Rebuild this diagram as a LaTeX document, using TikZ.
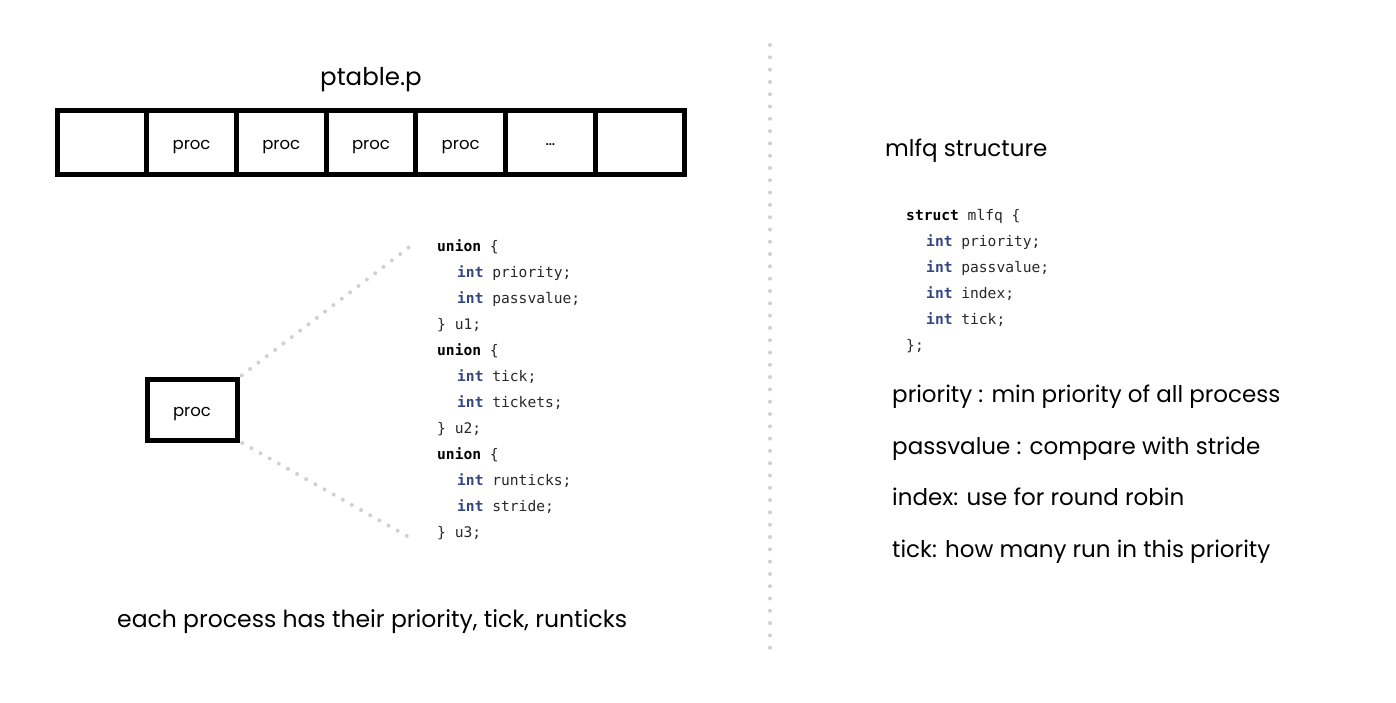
\documentclass[tikz,border=0pt]{standalone}
\usepackage{fontspec}
\setmainfont{Poppins}
\newfontfamily\codefont{DejaVu Sans Mono}
\usetikzlibrary{calc}
\definecolor{kwblue}{RGB}{52,70,128}
\definecolor{codegray}{RGB}{40,40,40}
\definecolor{dotgray}{RGB}{208,208,208}
\newcommand{\kwi}{{\bfseries\color{kwblue}int}}
\newcommand{\kwb}[1]{{\bfseries\color{black}#1}}
\tikzset{
  cellbox/.style={draw=black, line width=5pt, minimum width=89.7pt, minimum height=64pt, inner sep=0pt, outer sep=0pt},
  celltext/.style={inner sep=0pt, font=\fontsize{16.5}{18}\selectfont},
  procbox/.style={draw=black, line width=5pt, minimum width=90pt, minimum height=61pt, inner sep=0pt, outer sep=0pt},
  codeline/.style={anchor=mid west, inner sep=0pt, text=codegray, font=\codefont\fontsize{14.6}{18}\selectfont},
  label/.style={anchor=mid west, inner sep=0pt, font=\fontsize{23}{26}\selectfont},
  dotline/.style={draw=dotgray, line width=4pt, line cap=round, dash pattern=on 0pt off 10.5pt},
  vdotline/.style={draw=dotgray, line width=4pt, line cap=round, dash pattern=on 0pt off 12.3pt}
}
\begin{document}
\begin{tikzpicture}[x=1pt,y=-1pt]
\path[use as bounding box] (0,0) rectangle (1396,702);

% ptable
\node[anchor=center, inner sep=0pt, font=\fontsize{24.5}{28}\selectfont] (title) at (371,80) {ptable.p};
\foreach \t [count=\i from 0] in {{},{},{},{},{},{},{}} {
  \node[cellbox] (cell\i) at ({57+89.7*(\i+0.5)},142) {};
}
\foreach \i in {1,2,3,4} {
  \node[celltext] (ct\i) at ($(cell\i.center)+(0,5)$) {proc};
}
\node[celltext] (ct5) at ($(cell5.center)+(0,3)$) {\ldots};

% proc box
\node[procbox] (pbox) at (192,409.5) {};
\node[celltext] (ptext) at ($(pbox.center)+(0,5)$) {proc};
\coordinate (ct) at (412,245);
\coordinate (cb) at (407,536);
\draw[dotline, shorten <=6pt] (pbox.north east) -- (ct);
\draw[dotline, shorten <=6pt] (pbox.south east) -- (cb);

% left code
\foreach \y/\x/\t [count=\i] in {
  246/437/{\kwb{union} \{},
  272/457/{\kwi{} priority;},
  298/457/{\kwi{} passvalue;},
  324/437/{\} u1;},
  350/437/{\kwb{union} \{},
  376/457/{\kwi{} tick;},
  402/457/{\kwi{} tickets;},
  428/437/{\} u2;},
  454/437/{\kwb{union} \{},
  480/457/{\kwi{} runticks;},
  506/457/{\kwi{} stride;},
  532/437/{\} u3;}} {
  \node[codeline] (lc\i) at (\x,\y+3) {\t};
}

% bottom text
\node[label, font=\fontsize{23.5}{26}\selectfont] (bottom) at (117,625) {each process has their priority, tick, runticks};

% divider
\coordinate (vt) at (770,45);
\coordinate (vb) at (770,652);
\draw[vdotline] (vt) -- (vb);

% right side
\node[label] (mlfq) at (885,154) {mlfq structure};
\foreach \y/\x/\t [count=\i] in {
  215/906/{\kwb{struct} mlfq \{},
  241/926/{\kwi{} priority;},
  267/926/{\kwi{} passvalue;},
  293/926/{\kwi{} index;},
  319/926/{\kwi{} tick;},
  345/906/{\};}} {
  \node[codeline] (rc\i) at (\x,\y+3) {\t};
}
\node[label] (d1) at (892,400) {priority : min priority of all process};
\node[label] (d2) at (892,452) {passvalue : compare with stride};
\node[label] (d3) at (892,503) {index: use for round robin};
\node[label] (d4) at (892,555) {tick: how many run in this priority};
\end{tikzpicture}
\end{document}
